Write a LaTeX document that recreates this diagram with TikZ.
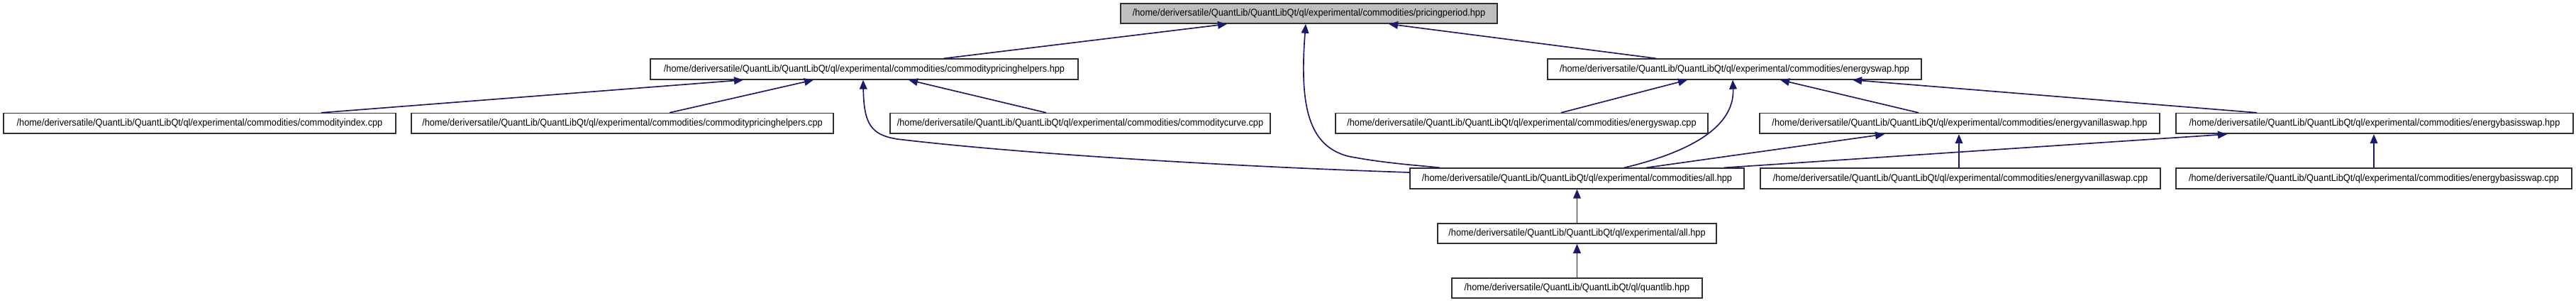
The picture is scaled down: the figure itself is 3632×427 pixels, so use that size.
\documentclass[tikz,border=0pt]{standalone}
\usepackage{fontspec}
\setmainfont{Liberation Sans}
\newfontfamily\doxfont[FakeStretch=0.92]{Liberation Sans}
\usetikzlibrary{arrows.meta}
\definecolor{edgec}{HTML}{191970}
\definecolor{topfill}{HTML}{BFBFBF}
\definecolor{bordc}{HTML}{303030}
\newcommand\qlpath{/home/deriversatile/QuantLib/QuantLibQt/ql}
\newcommand\cmpath{\qlpath/experimental/commodities}
\begin{document}
\begin{tikzpicture}[x=0.3pt,y=-0.3pt,
  box/.style={draw=bordc, line width=0.5pt, fill=white, inner sep=0pt, minimum height=8.6pt, font=\doxfont\fontsize{4.15}{5}\selectfont},
  rootbox/.style={box, fill=topfill, minimum height=8.4pt},
  edge/.style={draw=edgec, line width=0.5pt, {Triangle[length=3.9pt,width=3.2pt]}-}]
\useasboundingbox (0,0) rectangle (3632,427);
% nodes
\node[rootbox, minimum width=159.3pt] (A) at (1845.5,19) {\cmpath/pricingperiod.hpp};
\node[box, minimum width=180.9pt] (B) at (1218.5,97.5) {\cmpath/commoditypricinghelpers.hpp};
\node[box, minimum width=158.1pt] (C) at (2445.5,97.5) {\cmpath/energyswap.hpp};
\node[box, minimum width=165.9pt] (D) at (281.5,174) {\cmpath/commodityindex.cpp};
\node[box, minimum width=178.5pt] (E) at (877.5,174) {\cmpath/commoditypricinghelpers.cpp};
\node[box, minimum width=160.8pt] (F) at (1523,174) {\cmpath/commoditycurve.cpp};
\node[box, minimum width=157.5pt] (G) at (2145.5,174) {\cmpath/energyswap.cpp};
\node[box, minimum width=169.2pt] (H) at (2763,174) {\cmpath/energyvanillaswap.hpp};
\node[box, minimum width=168pt] (I) at (3348,174) {\cmpath/energybasisswap.hpp};
\node[box, minimum width=141.3pt] (J) at (2223.5,251.5) {\cmpath/all.hpp};
\node[box, minimum width=169.2pt] (K) at (2764,251.5) {\cmpath/energyvanillaswap.cpp};
\node[box, minimum width=167.4pt] (L) at (3347,251.5) {\cmpath/energybasisswap.cpp};
\node[box, minimum width=117.9pt, minimum height=8.4pt] (M) at (2223.5,329) {\qlpath/experimental/all.hpp};
\node[box, minimum width=105.9pt, minimum height=8.4pt] (N) at (2223.5,406) {\qlpath/quantlib.hpp};
% edges
\draw[edge] (A.south -| 1730,0) -- (B.north -| 1331,0);
\draw[edge] (A.south -| 1958,0) -- (C.north -| 2335,0);
\draw[edge] (A.south -| 1841,0) .. controls (1832,150) and (1845,205) .. (1900,220) .. controls (1950,230) and (2000,233) .. (J.north -| 2030,0);
\draw[edge] (B.south -| 1048,0) -- (D.north -| 453,0);
\draw[edge] (B.south -| 1147,0) -- (E.north -| 944,0);
\draw[edge] (B.south -| 1281,0) -- (F.north -| 1475,0);
\draw[edge] (B.south -| 1217,0) .. controls (1218,175) and (1228,190) .. (1265,196) .. controls (1450,218) and (1750,235) .. (J.west |- 0,243);
\draw[edge] (C.south -| 2379,0) -- (G.north -| 2201,0);
\draw[edge] (C.south -| 2443,0) .. controls (2446,180) and (2380,215) .. (J.north -| 2290,0);
\draw[edge] (C.south -| 2510,0) -- (H.north -| 2705,0);
\draw[edge] (C.south -| 2612,0) -- (I.north -| 3182,0);
\draw[edge] (H.south -| 2657,0) -- (J.north -| 2321,0);
\draw[edge] (H.south -| 2762,0) -- (K.north -| 2762,0);
\draw[edge] (I.south -| 3140,0) -- (J.north -| 2431,0);
\draw[edge] (I.south -| 3347,0) -- (L.north -| 3347,0);
\draw[edge] (J.south) -- (M.north);
\draw[edge] (M.south) -- (N.north);
\end{tikzpicture}
\end{document}
